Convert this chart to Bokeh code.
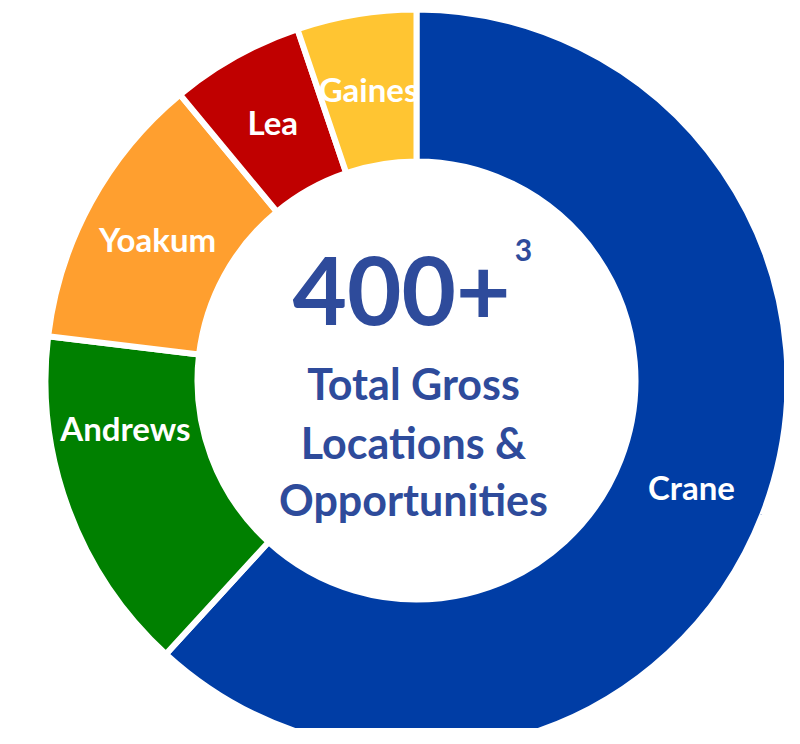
import numpy as np
from bokeh.plotting import figure
from bokeh.models import Range1d, ColumnDataSource
from bokeh.core.properties import value
from bokeh.embed import file_html
from bokeh.resources import INLINE

# ---- data ----
counties = ["Crane", "Andrews", "Yoakum", "Lea", "Gaines"]
shares = [61.8, 15.1, 12.1, 5.8, 5.2]          # percent of total gross locations
colors = ["#003DA5", "#008000", "#FF9F2F", "#C00000", "#FFC532"]
headline = "400+"
headline_note = "3"
subtitle_lines = ["Total Gross", "Locations &", "Opportunities"]

# ---- geometry (pixel-like data units, y up) ----
W, H = 784, 728
cx, cy = 416, -380
r_out, r_in = 371, 219
label_r = 295
label_angle_adjust = {"Andrews": 11.0}   # Excel nudged this label up
BASE = 0.35  # rendered baseline sits ~0.35 em below the given y

total = float(sum(shares))
cum = np.concatenate([[0.0], np.cumsum(shares)]) / total * 360.0   # clockwise from 12 o'clock
theta1 = cum[:-1]
theta2 = cum[1:]
start = 90.0 - theta2
end = 90.0 - theta1
mid = (theta1 + theta2) / 2.0 + np.array([label_angle_adjust.get(c, 0.0) for c in counties])
lab_size = 33
lx = cx + label_r * np.sin(np.radians(mid))
ly = cy + label_r * np.cos(np.radians(mid)) - 11 + BASE * lab_size

src = ColumnDataSource(dict(county=counties, start=start, end=end, color=colors, lx=lx, ly=ly))

p = figure(width=W, height=H, output_backend="svg", toolbar_location=None,
           x_range=Range1d(0, W), y_range=Range1d(-H, 0),
           min_border=0, outline_line_color=None, background_fill_color="white",
           border_fill_color="white")
p.axis.visible = False
p.grid.visible = False

p.annular_wedge(x=cx, y=cy, inner_radius=r_in, outer_radius=r_out,
                start_angle="start", end_angle="end",
                start_angle_units="deg", end_angle_units="deg",
                direction="anticlock", fill_color="color",
                line_color="white", line_width=6, source=src)

p.text(x="lx", y="ly", text="county", source=src, text_color="white",
       text_font=value("Lato"), text_font_style="bold", text_font_size=f"{lab_size}px",
       text_align="center", text_baseline="alphabetic")

navy = "#2E4B9B"
hs, ns, ss = 94, 30, 43
p.text(x=[401], y=[-323 + BASE * hs], text=[headline], text_color=navy, text_font=value("Lato"),
       text_font_style="bold", text_font_size=f"{hs}px", text_align="center",
       text_baseline="alphabetic")
p.text(x=[523], y=[-260 + BASE * ns], text=[headline_note], text_color=navy, text_font=value("Lato"),
       text_font_style="bold", text_font_size=f"{ns}px", text_align="center",
       text_baseline="alphabetic")
p.text(x=[413, 413, 413], y=[v + BASE * ss for v in (-398, -457, -514)], text=subtitle_lines,
       text_color=navy, text_font=value("Lato"), text_font_style="bold",
       text_font_size=f"{ss}px", text_align="center", text_baseline="alphabetic")

open("out.html", "w").write(file_html(p, INLINE))
